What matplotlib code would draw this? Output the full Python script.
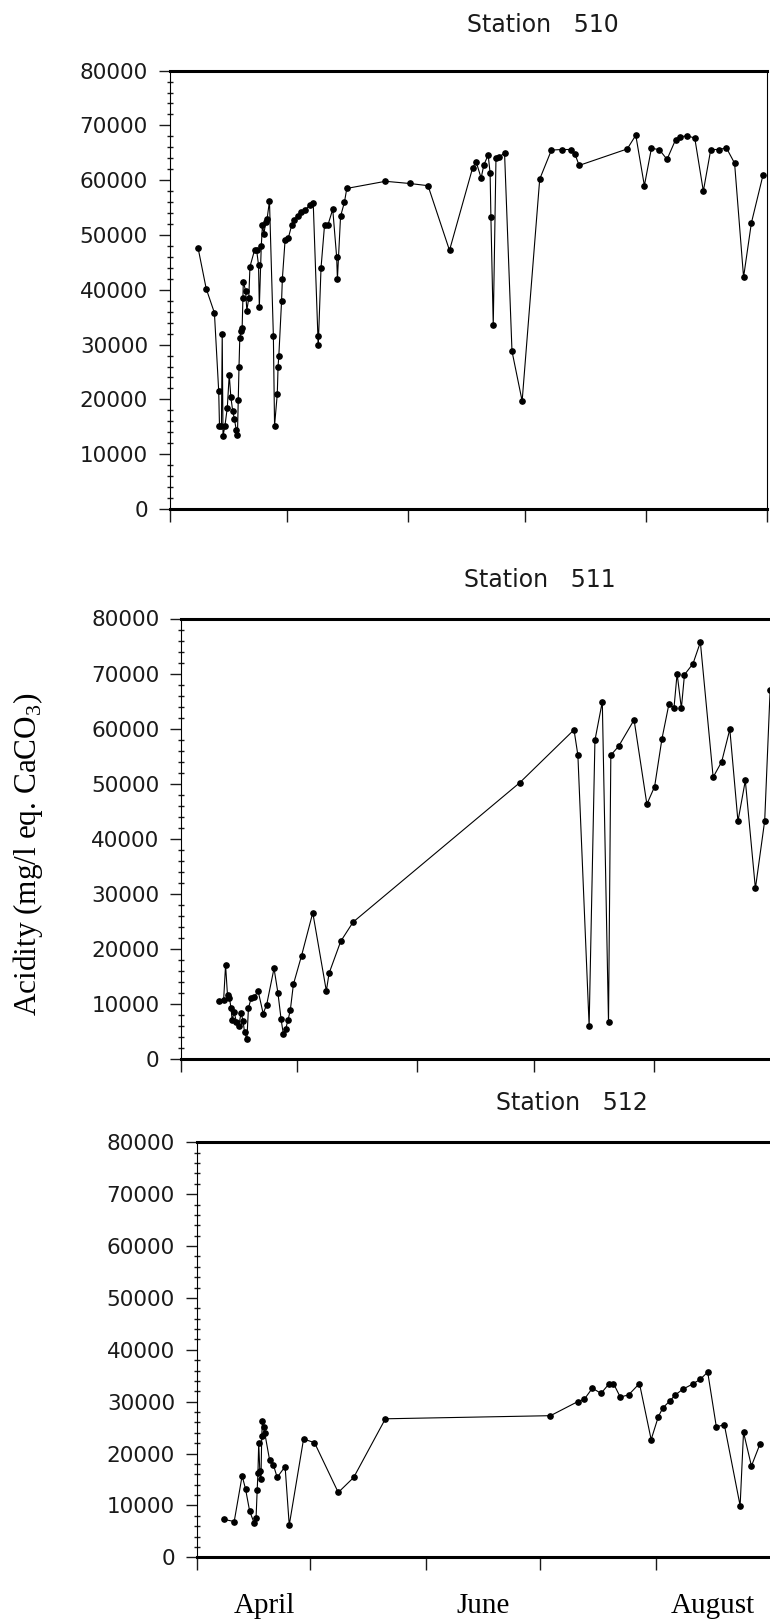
import matplotlib
matplotlib.use('Agg')
import matplotlib.pyplot as plt
from matplotlib.ticker import MultipleLocator

plt.rcParams['mathtext.fontset'] = 'custom'
plt.rcParams['mathtext.rm'] = 'Liberation Serif'

# sampling day counted from 1 April, acidity in mg/l eq. CaCO3
s510_day = [7.3, 9.4, 11.5, 12.6, 12.8, 13.3, 13.5, 13.7, 14.2, 14.8, 15.3, 15.7, 16.2, 16.6, 17.1,
            17.4, 17.6, 17.8, 18.0, 18.3, 18.6, 18.8, 18.9, 19.5, 19.8, 20.3, 20.6, 21.8, 22.3, 22.8,
            23.0, 23.5, 23.8, 24.2, 24.6, 25.0, 25.6, 26.6, 26.9, 27.6, 27.8, 28.0, 28.7, 28.9, 29.6,
            30.4, 31.3, 31.8, 33.0, 33.8, 34.7, 36.0, 36.8, 38.0, 38.1, 38.8, 39.7, 40.6, 41.8, 42.8,
            43.0, 43.8, 44.8, 45.4, 55.3, 61.5, 66.2, 71.7, 77.6, 78.5, 79.8, 80.5, 81.6, 82.1, 82.3,
            82.9, 83.6, 84.4, 85.8, 87.7, 90.3, 94.8, 97.8, 100.5, 102.9, 103.8, 104.9, 117.2, 119.4,
            121.6, 123.4, 125.4, 127.4, 129.6, 130.6, 132.5, 134.5, 136.7, 138.6, 140.7, 142.6, 144.7,
            147.0, 149.0, 152.0]
s510_acid = [47700, 40200, 35800, 21500, 15200, 15200, 32000, 13300, 15200, 18500, 24500, 20500, 17800,
             16500, 14400, 13500, 19800, 26000, 31200, 32500, 33000, 38500, 41500, 39800, 36200, 38500,
             44200, 47300, 47300, 44500, 36800, 48000, 51800, 50200, 52300, 53000, 56200, 31500, 15200,
             21000, 26000, 28000, 38000, 42000, 49100, 49400, 51800, 52800, 53500, 54200, 54600, 55500,
             55900, 31500, 30000, 44000, 51800, 51900, 54700, 46000, 42000, 53400, 56000, 58500, 59800,
             59400, 59000, 47200, 62200, 63400, 60400, 62800, 64600, 61300, 53300, 33500, 64000, 64300,
             64900, 28800, 19700, 60200, 65500, 65600, 65600, 64800, 62700, 65700, 68200, 59000, 65800,
             65600, 63800, 67400, 67900, 68100, 67700, 58000, 65600, 65600, 65900, 63100, 42300, 52200,
             61000]

s511_day = [9.8, 11.0, 11.5, 12.0, 12.5, 12.9, 13.2, 13.7, 14.3, 14.9, 15.5, 16.0, 16.4, 17.0, 17.4,
            18.1, 18.9, 19.9, 21.2, 22.1, 24.0, 25.0, 25.8, 26.4, 27.0, 27.6, 28.2, 29.0, 31.1, 34.0,
            37.5, 38.2, 41.2, 44.4, 87.4, 101.4, 102.4, 105.3, 106.8, 108.7, 110.3, 110.9, 112.9, 116.9,
            120.2, 122.2, 124.1, 125.9, 127.2, 128.0, 129.1, 129.9, 132.1, 134.0, 137.3, 139.5, 141.6,
            143.7, 145.6, 148.2, 150.6, 152.0]
s511_acid = [10500, 10800, 17100, 11600, 11200, 9300, 7100, 8600, 6800, 6100, 8400, 7000, 4900, 3600,
             9300, 11100, 11300, 12400, 8300, 9900, 16500, 12100, 7400, 4600, 5500, 7100, 8900, 13600,
             18800, 26600, 12400, 15600, 21400, 24900, 50200, 59800, 55200, 6100, 57900, 64900, 6700,
             55200, 56800, 61600, 46300, 49500, 58200, 64500, 63800, 70000, 63700, 69800, 71800, 75700,
             51200, 54000, 59900, 43200, 50600, 31000, 43300, 67000]

s512_day = [7.3, 10.0, 12.1, 13.0, 14.1, 15.3, 15.8, 16.1, 16.3, 16.5, 16.8, 17.1, 17.3, 17.5, 17.8,
            18.1, 19.4, 20.4, 21.4, 23.5, 24.6, 28.4, 31.3, 37.6, 41.7, 50.1, 93.9, 101.1, 102.9, 105.0,
            107.3, 109.5, 110.6, 112.4, 114.6, 117.5, 120.6, 122.5, 123.7, 125.5, 127.0, 129.0, 131.6,
            133.6, 135.6, 137.9, 140.0, 144.2, 145.1, 147.2, 149.5]
s512_acid = [7300, 6900, 15700, 13200, 8900, 6600, 7600, 13000, 16300, 22000, 16600, 15000, 23300, 26200,
             25200, 24000, 18700, 17800, 15400, 17500, 6200, 22800, 22100, 12500, 15400, 26700, 27300,
             30000, 30500, 32600, 31600, 33500, 33500, 30900, 31300, 33500, 22700, 27100, 28800, 30100,
             31300, 32400, 33400, 34300, 35700, 25100, 25600, 9950, 24100, 17600, 21900]

month_starts = [0, 30, 61, 91, 122, 153]
month_names = ['April', 'June', 'August']
month_mid = [18, 76, 137]
acid_ticks = [0, 10000, 20000, 30000, 40000, 50000, 60000, 70000, 80000]

W, H = 770, 1621
fig = plt.figure(figsize=(W / 100.0, H / 100.0), dpi=100)


def add_panel(left, right, top, bottom):
    return fig.add_axes([left / W, 1 - bottom / H, (right - left) / W, (bottom - top) / H])


def draw(ax, days, acid, xmax):
    ax.plot(days, acid, color='black', lw=0.8, marker='o', ms=3.8, mfc='black', mec='black')
    ax.set_xlim(0, xmax)
    ax.set_ylim(0, 80000)
    ax.set_yticks(acid_ticks)
    ax.set_yticklabels([str(v) for v in acid_ticks])
    ax.yaxis.set_minor_locator(MultipleLocator(2000))
    ax.set_xticks(month_starts)
    ax.set_xticklabels([])
    ax.tick_params(axis='y', which='major', direction='out', length=8, width=1, pad=7.5,
                   labelsize=15.5, colors='#1a1a1a')
    ax.tick_params(axis='y', which='minor', direction='inout', length=5, width=1, colors='#1a1a1a')
    ax.tick_params(axis='x', which='major', direction='out', length=9, width=1, colors='#1a1a1a')
    ax.spines['top'].set_linewidth(2.2)
    ax.spines['bottom'].set_linewidth(2.2)
    ax.spines['left'].set_linewidth(0.8)
    ax.spines['right'].set_linewidth(0.8)


panels = [
    (169.5, 767.0, 70.6, 509.0, 151.1, s510_day, s510_acid, 'Station   510', 543, 25),
    (181.0, 774.0, 618.5, 1059.3, 152.0, s511_day, s511_acid, 'Station   511', 540, 580),
    (196.5, 773.3, 1142.3, 1557.3, 152.0, s512_day, s512_acid, 'Station   512', 572, 1103),
]

axes = []
for left, right, top, bottom, xmax, days, acid, title, tx, ty in panels:
    ax = add_panel(left, right, top, bottom)
    draw(ax, days, acid, xmax)
    fig.text(tx / W, 1 - ty / H, title, ha='center', va='center', fontsize=17,
             family='DejaVu Sans', color='#1a1a1a')
    axes.append(ax)

# month names under the last panel only
ax = axes[-1]
ax.set_xticks(month_mid, month_names, minor=True)
ax.tick_params(axis='x', which='minor', length=0, pad=26, labelsize=21)
for lbl in ax.get_xticklabels(minor=True):
    lbl.set_family('Liberation Serif')

fig.text(28 / W, 1 - 854 / H, 'Acidity (mg/l eq. CaCO$_3$)', rotation=90, ha='center', va='center',
         fontsize=22.5, family='Liberation Serif')

fig.savefig('out.png', dpi=100, facecolor='white')
